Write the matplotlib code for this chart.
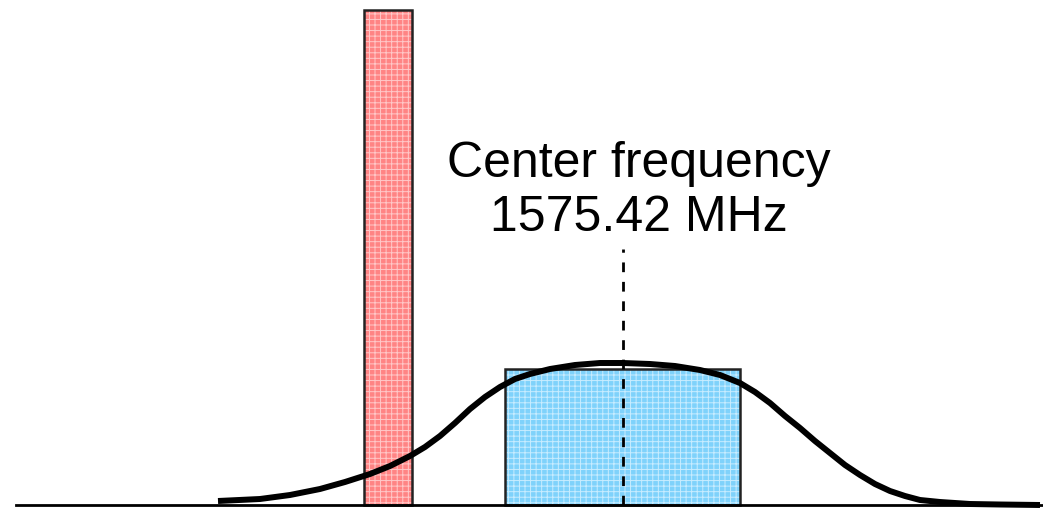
"""
Spectrum sketch: a narrow interferer next to the L1 signal band,
with the receiver filter response drawn over both.
"""

import matplotlib
matplotlib.use("Agg")
import matplotlib.pyplot as plt

plt.rcParams["font.family"] = ["Liberation Sans", "DejaVu Sans"]
plt.rcParams["hatch.linewidth"] = 0.7

# --- data (arbitrary frequency units, relative amplitude) ---
center_freq = 623
center_label = "Center frequency\n1575.42 MHz"

# narrow interferer (left edge, right edge, height)
jammer_span = [364, 412]
jammer_level = 495

# signal band
signal_span = [505, 740]
signal_level = 136

# filter response
filter_freq = [218, 260, 290, 320, 345, 370, 390, 410, 425, 440, 455, 470,
               485, 500, 515, 530, 550, 575, 600, 623, 650, 675, 700, 720,
               740, 755, 770, 785, 800, 815, 830, 845, 860, 875, 890, 905,
               920, 940, 970, 1000, 1040]
filter_gain = [4, 6, 10, 16, 23, 31, 39, 49, 58, 69, 82, 96,
               108, 118, 126, 131, 136, 140, 142, 142, 141, 139, 135, 130,
               122, 113, 102, 89, 77, 64, 52, 40, 30, 21, 14, 9,
               5, 3, 1, 0.5, 0]

fig = plt.figure(figsize=(10.43, 5.08), dpi=100)
ax = fig.add_axes([0, 0, 1, 1])
ax.set_xlim(0, 1043)
ax.set_ylim(-3, 505)
ax.axis("off")


def textured_bar(span, level, face, grid):
    w = span[1] - span[0]
    ax.bar(span[0], level, width=w, align="edge", color=face,
           linewidth=0, zorder=2)
    ax.bar(span[0], level, width=w, align="edge", color="none",
           edgecolor=grid, hatch="+++", linewidth=0, zorder=2.1)
    ax.bar(span[0], level, width=w, align="edge", color="none",
           edgecolor="#222222", linewidth=1.8, zorder=2.2)


textured_bar(jammer_span, jammer_level, "#ff8484", "#ffc8c8")
textured_bar(signal_span, signal_level, "#7fd2fb", "#c8ecff")

# center frequency marker
ax.plot([center_freq, center_freq], [0, 256], color="black", lw=2,
        linestyle=(0, (3.5, 3.5)), zorder=3)
ax.text(center_freq + 16, 314, center_label, ha="center", va="center",
        fontsize=36, linespacing=1.22, zorder=4)

# filter response
ax.plot(filter_freq, filter_gain, color="black", lw=4.3,
        solid_capstyle="butt", solid_joinstyle="round", zorder=5)

# baseline
ax.plot([16, 1043], [0, 0], color="black", lw=2, zorder=6)

fig.savefig("out.png", dpi=100)
